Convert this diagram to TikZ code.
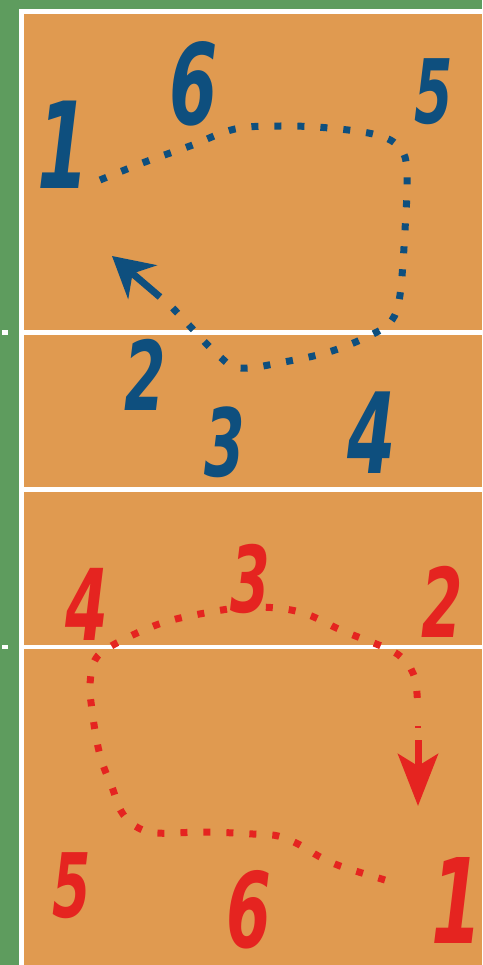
\documentclass[tikz,border=0pt]{standalone}
\usepackage{fontspec}
\usetikzlibrary{arrows.meta}
\newfontfamily\hand[FakeStretch=0.62]{DejaVu Sans}
\definecolor{courtgreen}{HTML}{5E9C5E}
\definecolor{courtorange}{HTML}{E09A50}
\definecolor{teamblue}{HTML}{0E4F7E}
\definecolor{teamred}{HTML}{E52420}
\tikzset{
  dig/.style={inner sep=0pt, outer sep=0pt, font=\hand\bfseries\itshape},
  bluedig/.style={dig, text=teamblue},
  reddig/.style={dig, text=teamred},
  dots/.style={line width=7pt, line cap=butt, dash pattern=on 7pt off 16pt},
  whiteline/.style={fill=white, draw=none},
}
\newcommand{\fsz}[1]{\fontsize{#1}{#1}\selectfont}
\begin{document}
\begin{tikzpicture}[x=1pt,y=-1pt]
\useasboundingbox (0,0) rectangle (482,965);
% background
\fill[courtgreen] (0,0) rectangle (482,965);
\fill[courtorange] (19,9) rectangle (482,965);
% white lines
\fill[whiteline] (19,9) rectangle (482,14);
\fill[whiteline] (19,9) rectangle (24,965);
\fill[whiteline] (24,330) rectangle (482,334.5);
\fill[whiteline] (24,487) rectangle (482,491.5);
\fill[whiteline] (24,644.5) rectangle (482,649);
\fill[whiteline] (2,330) rectangle (8,334.5);
\fill[whiteline] (2,644.5) rectangle (8,649);
% blue digits
\node[bluedig] (b1) at (63,145) {\fsz{120}1};
\node[bluedig] (b6) at (194,84) {\fsz{112}6};
\node[bluedig] (b5) at (434,92) {\fsz{89}5};
\node[bluedig] (b2) at (145,375) {\fsz{96}2};
\node[bluedig] (b3) at (225,442) {\fsz{94}3};
\node[bluedig] (b4) at (372,433) {\fsz{112}4};
% red digits
\node[reddig] (r4) at (87,604) {\fsz{99}4};
\node[reddig] (r3) at (250,579) {\fsz{92}3};
\node[reddig] (r2) at (442,602) {\fsz{96}2};
\node[reddig] (r5) at (72,886) {\fsz{89}5};
\node[reddig] (r6) at (249,910) {\fsz{104}6};
\node[reddig] (r1) at (457,900) {\fsz{118}1};
% blue rotation path
\coordinate (bs) at (100,180);
\coordinate (be) at (170,305);
\coordinate (bas) at (160,297);
\coordinate (bat) at (112,256);
\draw[teamblue, dots] plot[smooth, tension=0.6] coordinates {
 (100,180) (145,162) (190,146) (235,129) (281,126) (329,128) (377,135)
 (400,148) (407,172) (405,230) (400,295) (392,320) (375,333) (332,351)
 (284,362) (240,368) (218,355) (186,322) (170,305)};
\draw[teamblue, line width=7pt, -{Stealth[length=40pt,width=44pt,inset=13pt]}] (bas) -- (bat);
% red rotation path
\coordinate (rs) at (385,880);
\coordinate (ras) at (418,740);
\coordinate (rat) at (418,806);
\draw[teamred, dots] plot[smooth, tension=0.6] coordinates {
 (385,880) (362,873) (340,866) (320,857) (300,845) (278,836) (253,834)
 (205,832) (157,833) (135,826) (121,811) (112,787) (103,765) (97,742)
 (92,710) (90,685) (95,660) (113,645) (159,624) (205,613) (252,607)
 (300,612) (343,631) (388,649) (405,661) (415,679) (418,710)};
\fill[teamred] (415,726) rectangle (421,728);
\draw[teamred, line width=7pt, -{Stealth[length=52pt,width=40pt,inset=12pt]}] (ras) -- (rat);
\end{tikzpicture}
\end{document}
